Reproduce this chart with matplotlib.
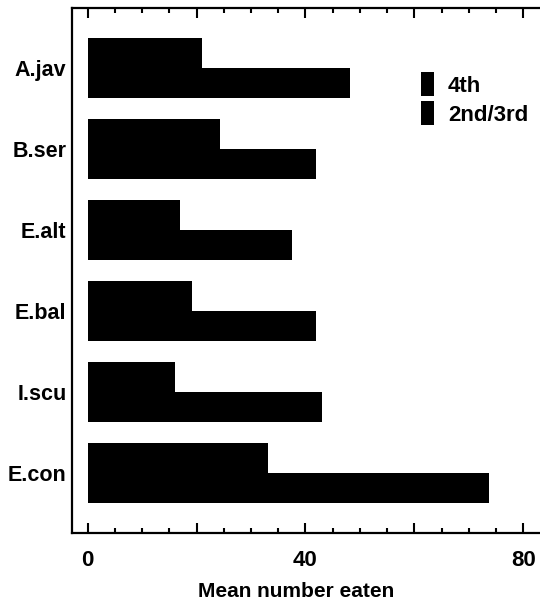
import matplotlib
matplotlib.use("Agg")
import matplotlib.pyplot as plt
import numpy as np
from matplotlib.ticker import MultipleLocator, FixedLocator

# 每个物种的平均捕食数量
species = ["A.jav", "B.ser", "E.alt", "E.bal", "I.scu", "E.con"]
instar_4th = [20.9, 24.3, 16.9, 19.2, 16.0, 33.1]
instar_2nd3rd = [48.1, 41.9, 37.6, 41.9, 43.0, 73.8]
series_names = ["4th", "2nd/3rd"]

plt.rcParams['font.family'] = ['Liberation Sans', 'DejaVu Sans']
plt.rcParams['font.weight'] = 'bold'

fig = plt.figure(figsize=(5.4, 6.09), dpi=100)
ax = fig.add_axes([72 / 540, 76 / 609, 1 - 72 / 540, 525 / 609])

y = np.arange(len(species))
h = 0.37
ax.barh(y - h / 2, instar_4th, height=h, color="black", label=series_names[0])
ax.barh(y + h / 2, instar_2nd3rd, height=h, color="black", label=series_names[1])

ax.set_xlim(-2.9, 83.1)
ax.set_ylim(5.74, -0.74)

# 坐标轴：左、上、下三条边
ax.spines['right'].set_visible(False)
for s in ['left', 'top', 'bottom']:
    ax.spines[s].set_linewidth(1.6)

ax.xaxis.set_major_locator(FixedLocator([0, 20, 40, 60, 80]))
ax.xaxis.set_minor_locator(MultipleLocator(5))
ax.set_xticklabels(["0", "", "40", "", "80"], fontsize=16, fontweight='bold')
ax.tick_params(axis='x', which='both', direction='in', top=True, bottom=True,
               width=1.5, pad=12)
ax.tick_params(axis='x', which='major', length=7)
ax.tick_params(axis='x', which='minor', length=3.5)

ax.set_yticks(y)
ax.set_yticklabels(species, fontsize=15.5, fontweight='bold')
ax.tick_params(axis='y', length=0, pad=4)

ax.set_xlabel("Mean number eaten", fontsize=15, fontweight='bold')
ax.xaxis.set_label_coords(0.479, -0.093)

ax.legend(loc='upper left', bbox_to_anchor=(410 / 540, 1 - 61 / 609),
          bbox_transform=fig.transFigure, frameon=False, fontsize=16,
          handlelength=0.6, handleheight=1.3, handletextpad=0.6,
          labelspacing=0.2, borderpad=0)

fig.savefig("out.png", dpi=100)
